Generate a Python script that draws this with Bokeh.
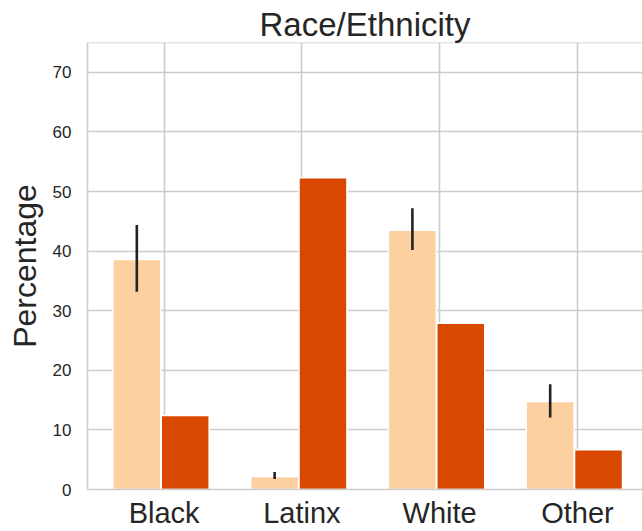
from bokeh.plotting import figure
from bokeh.models import Range1d, FixedTicker, Span, ColumnDataSource
from bokeh.embed import file_html
from bokeh.resources import INLINE

# ---- data ----
categories = ["Black", "Latinx", "White", "Other"]
light_values = [38.6, 2.2, 43.5, 14.75]
light_err_low = [33.2, 1.75, 40.2, 12.1]
light_err_high = [44.4, 2.95, 47.2, 17.65]
dark_values = [12.4, 52.3, 27.9, 6.65]
y_ticks = [0, 10, 20, 30, 40, 50, 60, 70]

# ---- style ----
LIGHT = "#fdd0a2"
DARK = "#d94801"
TEXT = "#262626"
GRID = "#cccccc"
FONT = "Liberation Sans"
BAR_W = 0.348
LIGHT_OFF = -0.198
DARK_OFF = 0.153

idx = list(range(len(categories)))
light_src = ColumnDataSource(dict(
    x=[i + LIGHT_OFF for i in idx], top=light_values,
    lo=light_err_low, hi=light_err_high))
dark_src = ColumnDataSource(dict(x=[i + DARK_OFF for i in idx], top=dark_values))

p = figure(width=642, height=531,
           x_range=Range1d(-0.556, 3.472), y_range=Range1d(0, 75),
           output_backend="svg", toolbar_location=None,
           min_border_left=87, min_border_right=0,
           min_border_top=42, min_border_bottom=42)
p.background_fill_color = "white"
p.border_fill_color = "white"
p.outline_line_color = None

p.title.text = "Race/Ethnicity"
p.title.text_font = FONT
p.title.text_font_size = "33px"
p.title.text_font_style = "normal"
p.title.text_color = TEXT
p.title.align = "center"
p.title.standoff = 0
p.title.offset = 2

p.vbar(x="x", top="top", width=BAR_W, bottom=0, source=light_src,
       fill_color=LIGHT, line_color="white", line_width=1.5)
p.vbar(x="x", top="top", width=BAR_W, bottom=0, source=dark_src,
       fill_color=DARK, line_color="white", line_width=1.5)
p.segment(x0="x", y0="lo", x1="x", y1="hi", source=light_src,
          line_color="#222222", line_width=2.6)

# top spine
p.add_layout(Span(location=75, dimension="width", line_color=GRID, line_width=1.6))

# axes
p.xaxis.ticker = FixedTicker(ticks=idx)
p.xaxis.major_label_overrides = {i: c for i, c in zip(idx, categories)}
p.yaxis.ticker = FixedTicker(ticks=y_ticks)
p.xgrid.ticker = FixedTicker(ticks=idx)
p.ygrid.ticker = FixedTicker(ticks=y_ticks)

for ax in (p.xaxis, p.yaxis):
    ax.axis_line_color = GRID
    ax.axis_line_width = 1.6
    ax.major_tick_line_color = None
    ax.minor_tick_line_color = None
    ax.major_tick_out = 0
    ax.major_tick_in = 0
    ax.major_label_text_font = FONT
    ax.major_label_text_color = TEXT
    ax.axis_label_text_font = FONT
    ax.axis_label_text_color = TEXT
    ax.axis_label_text_font_style = "normal"

p.xaxis.major_label_text_font_size = "29px"
p.xaxis.major_label_standoff = 7
p.yaxis.major_label_text_font_size = "17px"
p.yaxis.major_label_standoff = 16
p.yaxis.axis_label = "Percentage"
p.yaxis.axis_label_text_font_size = "32px"
p.yaxis.axis_label_standoff = 7

for g in (p.xgrid, p.ygrid):
    g.grid_line_color = GRID
    g.grid_line_width = 1.6

open("out.html", "w").write(file_html(p, INLINE))
